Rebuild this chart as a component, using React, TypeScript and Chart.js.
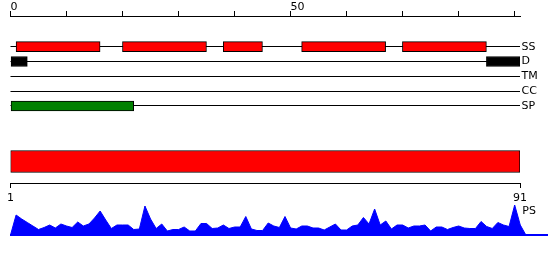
import React, { useEffect, useRef } from "react";
import { Chart, registerables } from "chart.js";

Chart.register(...registerables);

const FONT_FAMILY = "DejaVu Sans";

// ---- data ----
const sequenceLength = 91;
const trackNames = ["SS", "D", "TM", "CC", "SP"];
const topRulerLabelled = [0, 50];
const topRulerStep = 10;
const bottomRulerTicks = [1, 91];

const helixSegments = [[1, 16], [20, 35], [38, 45], [52, 67], [70, 85]];
const disorderSegments = [[0, 3], [85, 91]];
const tmSegments: number[][] = [];
const ccSegments: number[][] = [];
const signalSegments = [[0, 22]];
const domainRange = [1, 91];

const psTrackName = "PS";
const psScores = [
  0, 20, 16, 12.5, 9, 5.5, 7.5, 10, 7, 11,
  9, 7.5, 13, 9, 11, 17, 24, 15, 6.5, 10,
  10, 10, 5.5, 6, 29, 16, 6.5, 11, 4, 5.5,
  5.5, 8, 4, 4, 11.5, 11.5, 6.5, 7, 10, 6.5,
  8, 8, 18.5, 6, 4.5, 4.5, 12, 9, 7.5, 18.5,
  7, 6, 9, 9, 7, 7, 5, 8, 11, 5,
  5, 9, 10, 17.5, 11, 26, 10, 14, 6, 10,
  10, 7, 9, 9, 10, 4, 8, 8, 5.5, 7.5,
  9, 7, 6.5, 6.5, 13.5, 8.5, 6.5, 12.5, 10, 8.5,
  30, 10, 0,
];

const trackStyles = [
  { segments: helixSegments, track: 0, fill: "#ff0000" },
  { segments: disorderSegments, track: 1, fill: "#000000" },
  { segments: tmSegments, track: 2, fill: "#ff00ff" },
  { segments: ccSegments, track: 3, fill: "#ffa500" },
  { segments: signalSegments, track: 4, fill: "#008000" },
];

const font = { family: FONT_FAMILY, size: 11 };

const psLabelPlugin = {
  id: "psLabel",
  afterDraw(chart: any) {
    const { ctx, scales, chartArea } = chart;
    ctx.save();
    ctx.font = `11px "${FONT_FAMILY}"`;
    ctx.fillStyle = "#000";
    ctx.textAlign = "left";
    ctx.textBaseline = "middle";
    ctx.fillText(psTrackName, scales.x.getPixelForValue(sequenceLength) + 2, chartArea.top + 11);
    ctx.restore();
  },
};

export default function App() {
  const refA = useRef<HTMLCanvasElement>(null);
  const refC = useRef<HTMLCanvasElement>(null);
  const refD = useRef<HTMLCanvasElement>(null);

  useEffect(() => {
    const charts: Chart[] = [];

    // Tracks + top ruler
    charts.push(
      new Chart(refA.current!, {
        type: "bar",
        data: {
          datasets: trackStyles.map((t) => ({
            data: t.segments.map((s) => ({ x: s, y: t.track })),
            backgroundColor: t.fill,
            borderColor: "#000",
            borderWidth: 1,
            borderSkipped: false,
            barThickness: 10,
            grouped: false,
          })) as any,
        },
        options: {
          indexAxis: "y",
          animation: false,
          responsive: false,
          layout: { padding: { left: 10.5, right: 0, top: 0, bottom: 7.2 } },
          plugins: { legend: { display: false }, tooltip: { enabled: false } },
          scales: {
            x: {
              type: "linear",
              position: "top",
              min: 0,
              max: sequenceLength,
              ticks: {
                stepSize: topRulerStep,
                includeBounds: false,
                autoSkip: false,
                maxRotation: 0,
                align: "start",
                padding: -3,
                color: "#000",
                font,
                callback: (v: any) => (topRulerLabelled.includes(v) ? String(v) : ""),
              },
              grid: { drawOnChartArea: false, drawTicks: true, tickLength: 5, color: "#000", lineWidth: 1 },
              border: { display: true, color: "#000", width: 1 },
              afterFit: (s: any) => {
                s.height = 16;
              },
            },
            y: {
              type: "linear",
              position: "right",
              reverse: true,
              offset: false,
              min: -2.067,
              max: 4.4,
              ticks: {
                stepSize: 1,
                includeBounds: false,
                autoSkip: false,
                padding: 1.5,
                color: "#000",
                font,
                callback: (v: any) =>
                  Number.isInteger(v) && v >= 0 && v < trackNames.length ? trackNames[v] : "",
              },
              grid: {
                offset: false,
                drawTicks: false,
                lineWidth: 1,
                color: (ctx: any) => {
                  const v = ctx.tick && ctx.tick.value;
                  return Number.isInteger(v) && v >= 0 && v < trackNames.length ? "#000" : "rgba(0,0,0,0)";
                },
              },
              border: { display: false },
              afterFit: (s: any) => {
                s.width = 30;
              },
            },
          },
        } as any,
      })
    );

    // Domain bar + bottom ruler
    charts.push(
      new Chart(refC.current!, {
        type: "bar",
        data: {
          labels: ["domain"],
          datasets: [
            {
              data: [domainRange] as any,
              backgroundColor: "#ff0000",
              borderColor: "#000",
              borderWidth: 1,
              borderSkipped: false,
              barThickness: 22,
            },
          ],
        },
        options: {
          indexAxis: "y",
          animation: false,
          responsive: false,
          layout: { padding: { left: 10.5, right: 30, top: 10, bottom: 0 } },
          plugins: { legend: { display: false }, tooltip: { enabled: false } },
          scales: {
            x: {
              type: "linear",
              position: "bottom",
              min: bottomRulerTicks[0],
              max: bottomRulerTicks[bottomRulerTicks.length - 1],
              afterBuildTicks: (s: any) => {
                s.ticks = bottomRulerTicks.map((v) => ({ value: v }));
              },
              ticks: {
                autoSkip: false,
                maxRotation: 0,
                padding: 4,
                color: "#000",
                font,
                callback: (v: any) => String(v),
              },
              grid: { drawOnChartArea: false, drawTicks: true, tickLength: 5, color: "#000", lineWidth: 1 },
              border: { display: true, color: "#000", width: 1 },
              afterFit: (s: any) => {
                s.height = 22;
              },
            },
            y: { display: false },
          },
        } as any,
      })
    );

    // PS profile
    charts.push(
      new Chart(refD.current!, {
        type: "line",
        data: {
          datasets: [
            {
              data: psScores.map((v, i) => ({ x: i, y: v })),
              borderColor: "#0000ff",
              borderWidth: 1,
              backgroundColor: "#0000ff",
              fill: "origin",
              pointRadius: 0,
              tension: 0,
              clip: false as any,
            },
          ],
        },
        options: {
          animation: false,
          responsive: false,
          layout: { padding: { left: 10.5, right: 3, top: 5, bottom: 15 } },
          plugins: { legend: { display: false }, tooltip: { enabled: false } },
          scales: {
            x: {
              type: "linear",
              min: 0,
              max: 95.77,
              ticks: { display: false },
              grid: { drawOnChartArea: false, drawTicks: false },
              border: { display: true, color: "#0000ff", width: 2 },
              afterFit: (s: any) => {
                s.height = 0;
              },
            },
            y: { type: "linear", min: 0, max: 35, display: false },
          },
        } as any,
        plugins: [psLabelPlugin],
      })
    );

    return () => charts.forEach((c) => c.destroy());
  }, []);

  return (
    <div style={{ position: "absolute", left: 0, top: 0, width: 550, height: 260 }}>
      <canvas ref={refA} width={550} height={120} style={{ position: "absolute", left: 0, top: 0 }} />
      <canvas ref={refC} width={550} height={75} style={{ position: "absolute", left: 0, top: 130 }} />
      <canvas ref={refD} width={550} height={55} style={{ position: "absolute", left: 0, top: 195 }} />
    </div>
  );
}
